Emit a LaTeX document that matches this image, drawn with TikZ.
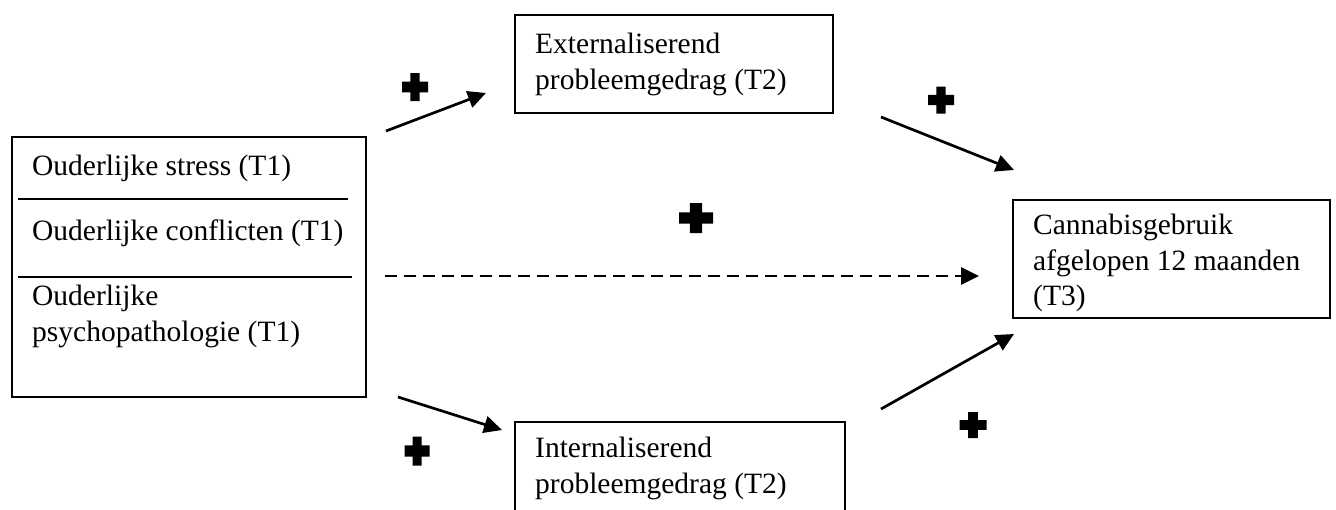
\documentclass[tikz,border=0pt]{standalone}
\usepackage{fontspec}
\setmainfont{Liberation Serif}
\usetikzlibrary{arrows.meta}
\tikzset{
  box/.style={draw, line width=1.3pt, inner sep=0pt},
  lbl/.style={anchor=base west, inner sep=0pt, font=\fontsize{29.5}{36}\selectfont},
  conn/.style={line width=2.7pt, -{Triangle[length=18pt,width=17pt]}},
  dashconn/.style={conn, dash pattern=on 12pt off 7pt},
  sep/.style={line width=1.3pt},
  plusmark/.pic={
    \fill (-0.18,-0.5) -- (0.18,-0.5) -- (0.18,-0.19) -- (0.5,-0.19) -- (0.5,0.19)
      -- (0.18,0.19) -- (0.18,0.5) -- (-0.18,0.5) -- (-0.18,0.19) -- (-0.5,0.19)
      -- (-0.5,-0.19) -- (-0.18,-0.19) -- cycle;
  }
}
\begin{document}
\begin{tikzpicture}[x=1pt,y=-1pt]
\useasboundingbox (0,0) rectangle (1336,509);
\clip (0,0) rectangle (1336,509);
% boxes
\node[box, minimum width=354pt, minimum height=260pt] (src) at (189,267) {};
\node[box, minimum width=318pt, minimum height=98pt] (ext) at (674,64) {};
\node[box, minimum width=317pt, minimum height=118pt] (can) at (1171.5,259) {};
\node[box, minimum width=330pt, minimum height=130pt] (int) at (680,487) {};
% separators in left box
\coordinate (s1a) at (18,199); \coordinate (s1b) at (348,199);
\coordinate (s2a) at (18,277); \coordinate (s2b) at (352,277);
\draw[sep] (s1a) -- (s1b);
\draw[sep] (s2a) -- (s2b);
% texts
\node[lbl] (t1) at (32,175) {Ouderlijke stress (T1)};
\node[lbl] (t2) at (32,240) {Ouderlijke conflicten (T1)};
\node[lbl] (t3) at (32,305) {Ouderlijke};
\node[lbl] (t4) at (32,341) {psychopathologie (T1)};
\node[lbl] (e1) at (535,53) {Externaliserend};
\node[lbl] (e2) at (535,89) {probleemgedrag (T2)};
\node[lbl] (c1) at (1033,234) {Cannabisgebruik};
\node[lbl] (c2) at (1033,270) {afgelopen 12 maanden};
\node[lbl] (c3) at (1033,305) {(T3)};
\node[lbl] (i1) at (535,457) {Internaliserend};
\node[lbl] (i2) at (535,493) {probleemgedrag (T2)};
% connector end points
\coordinate (a1s) at (386,131); \coordinate (a1e) at (486,93);
\coordinate (a2s) at (881,117); \coordinate (a2e) at (1014,170);
\coordinate (a3s) at (385,276); \coordinate (a3e) at (979,276);
\coordinate (a4s) at (398,397); \coordinate (a4e) at (502,430);
\coordinate (a5s) at (881,409); \coordinate (a5e) at (1014,334);
\draw[conn] (a1s) -- (a1e);
\draw[conn] (a2s) -- (a2e);
\draw[dashconn] (a3s) -- (a3e);
\draw[conn] (a4s) -- (a4e);
\draw[conn] (a5s) -- (a5e);
% plus signs
\pic[xscale=26, yscale=28] at (415,87) {plusmark};
\pic[xscale=26, yscale=27] at (941,100) {plusmark};
\pic[xscale=34, yscale=30] at (696,218) {plusmark};
\pic[xscale=25, yscale=29] at (417,451) {plusmark};
\pic[xscale=27, yscale=26] at (973,425) {plusmark};
\end{tikzpicture}
\end{document}
